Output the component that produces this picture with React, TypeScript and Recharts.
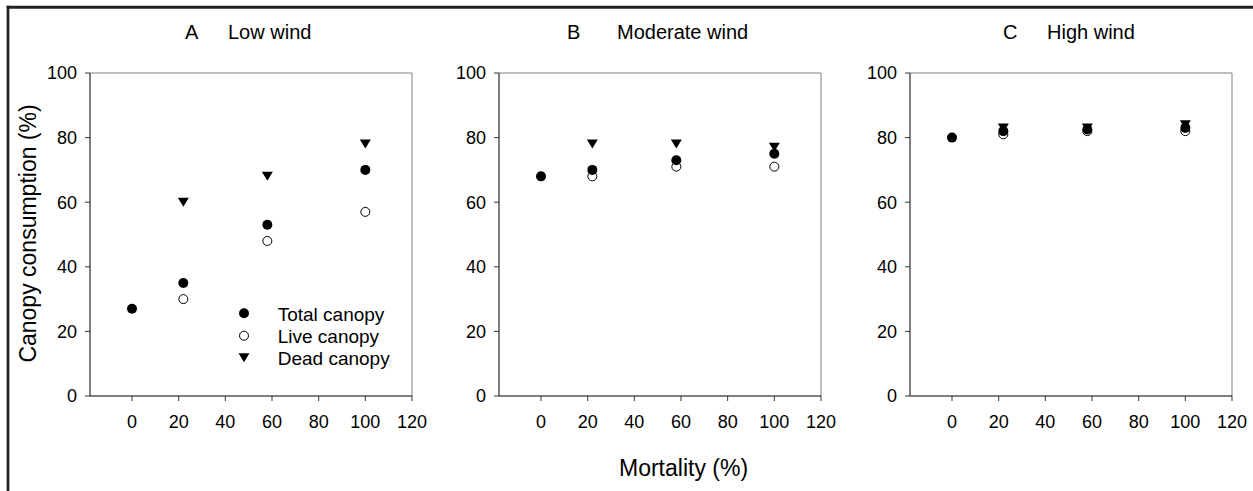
import React from "react";
import {
  ScatterChart,
  Scatter,
  XAxis,
  YAxis,
  ReferenceLine,
  Legend,
} from "recharts";

const mortality = [0, 22, 58, 100];

const lowTotal = [27, 35, 53, 70];
const lowLive = [null, 30, 48, 57];
const lowDead = [null, 60, 68, 78];

const modTotal = [68, 70, 73, 75];
const modLive = [null, 68, 71, 71];
const modDead = [null, 78, 78, 77];

const highTotal = [80, 82, 82.5, 83];
const highLive = [null, 81, 82, 82];
const highDead = [null, 83, 83, 84];

const xTicks = [0, 20, 40, 60, 80, 100, 120];
const yTicks = [0, 20, 40, 60, 80, 100];

const FONT = "'Liberation Sans', Arial, sans-serif";

const toPoints = (ys: (number | null)[]) =>
  mortality
    .map((x, i) => ({ x, y: ys[i] }))
    .filter((p) => p.y !== null);

const TotalDot = (props: any) => (
  <circle cx={props.cx} cy={props.cy} r={5} fill="#000" />
);
const LiveDot = (props: any) => (
  <circle cx={props.cx} cy={props.cy} r={4.5} fill="#fff" stroke="#000" strokeWidth={1} />
);
const DeadDot = (props: any) => {
  const { cx, cy } = props;
  return (
    <path
      d={`M${cx - 5.5},${cy - 4.5} L${cx + 5.5},${cy - 4.5} L${cx},${cy + 4.5} Z`}
      fill="#000"
    />
  );
};

const renderLegend = () => (
  <svg width={170} height={72} style={{ overflow: "visible" }}>
    <TotalDot cx={10} cy={13.3} />
    <LiveDot cx={10} cy={35.7} />
    <DeadDot cx={10} cy={57.7} />
    <g fontFamily={FONT} fontSize={19} fill="#000">
      <text x={43.7} y={20.7}>Total canopy</text>
      <text x={43.7} y={43.3}>Live canopy</text>
      <text x={43.7} y={65}>Dead canopy</text>
    </g>
  </svg>
);

interface PanelProps {
  left: number;
  yWidth: number;
  total: (number | null)[];
  live: (number | null)[];
  dead: (number | null)[];
  legend?: boolean;
}

// plot area is 322 px wide; extra right margin leaves room for the "120" label
const Panel: React.FC<PanelProps> = ({ left, yWidth, total, live, dead, legend }) => (
  <div style={{ position: "absolute", left, top: 0 }}>
    <ScatterChart
      width={yWidth + 322 + 22}
      height={491}
      margin={{ top: 73, right: 22, bottom: 55, left: 0 }}
    >
      <XAxis
        type="number"
        dataKey="x"
        domain={[-18, 120]}
        ticks={xTicks}
        height={40}
        tickSize={5}
        tickMargin={14}
        stroke="#000"
        tickLine={{ stroke: "#333" }}
        tick={{ fill: "#000", fontSize: 18, fontFamily: FONT }}
      />
      <YAxis
        type="number"
        dataKey="y"
        domain={[0, 100]}
        ticks={yTicks}
        width={yWidth}
        tickSize={5}
        tickMargin={8}
        stroke="#000"
        tickLine={{ stroke: "#333" }}
        tick={{ fill: "#000", fontSize: 18, fontFamily: FONT }}
      />
      <ReferenceLine y={100} stroke="#808080" strokeWidth={1} />
      <ReferenceLine x={120} stroke="#808080" strokeWidth={1} />
      <Scatter data={toPoints(live)} shape={LiveDot} isAnimationActive={false} />
      <Scatter data={toPoints(total)} shape={TotalDot} isAnimationActive={false} />
      <Scatter data={toPoints(dead)} shape={DeadDot} isAnimationActive={false} />
      {legend && (
        <Legend
          layout="vertical"
          align="center"
          verticalAlign="middle"
          content={renderLegend}
          wrapperStyle={{ position: "absolute", left: 234, top: 300, width: 170, height: 72 }}
        />
      )}
    </ScatterChart>
  </div>
);

export default function App() {
  return (
    <div
      style={{
        position: "absolute",
        left: 0,
        top: 0,
        width: 1253,
        height: 491,
        background: "#fff",
        overflow: "hidden",
      }}
    >
      <Panel left={0} yWidth={90} total={lowTotal} live={lowLive} dead={lowDead} legend />
      <Panel left={439} yWidth={60} total={modTotal} live={modLive} dead={modDead} />
      <Panel left={850} yWidth={60} total={highTotal} live={highLive} dead={highDead} />
      <svg
        width={1253}
        height={491}
        style={{ position: "absolute", left: 0, top: 0, pointerEvents: "none" }}
      >
        <line x1={6.7} y1={7.2} x2={1253} y2={7.2} stroke="#222" strokeWidth={3} />
        <line x1={8} y1={5.7} x2={8} y2={491} stroke="#222" strokeWidth={2.7} />
        <g fontFamily={FONT} fontSize={20} fill="#000">
          <text x={185} y={39}>A</text>
          <text x={228} y={39}>Low wind</text>
          <text x={567} y={39}>B</text>
          <text x={617} y={39}>Moderate wind</text>
          <text x={1003} y={39}>C</text>
          <text x={1047} y={39}>High wind</text>
        </g>
        <text
          x={28}
          y={233.5}
          transform="rotate(-90 28 233.5)"
          textAnchor="middle"
          dominantBaseline="central"
          fontFamily={FONT}
          fontSize={23}
          fill="#000"
        >
          Canopy consumption (%)
        </text>
        <text x={619} y={475.5} fontFamily={FONT} fontSize={23} fill="#000">
          Mortality (%)
        </text>
      </svg>
    </div>
  );
}
